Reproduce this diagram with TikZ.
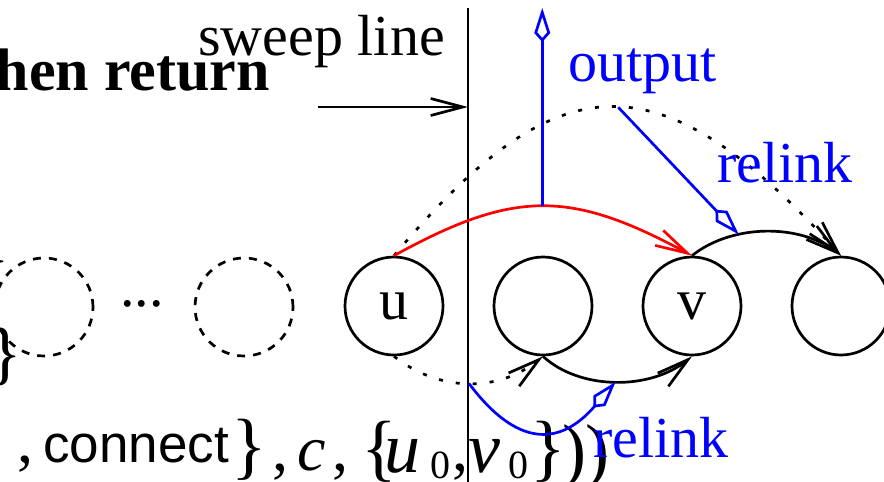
\documentclass[tikz,border=0pt]{standalone}
\usepackage{fontspec}
\setmainfont{Liberation Serif}
\setsansfont{Liberation Sans}
\usetikzlibrary{arrows.meta}
\definecolor{swpblue}{RGB}{0,0,255}
\definecolor{swpred}{RGB}{255,0,0}

\tikzset{
  lbl/.style={inner sep=0, font=\fontsize{58}{60}\selectfont},
  mth/.style={inner sep=0, anchor=base west, font=\fontsize{64}{66}\selectfont},
  vtx/.style={circle, draw, line width=2.7pt, minimum size=98pt, inner sep=0,
    font=\fontsize{58}{60}\selectfont},
  ghost/.style={vtx, dash pattern=on 8pt off 8pt},
  link/.style={line width=2.7pt, -{Straight Barb[length=32pt,width=17pt]}},
  dotlink/.style={link, dash pattern=on 4pt off 13pt},
  relink/.style={swpblue, line width=2.7pt, -{Kite[open,length=34pt,width=16pt,inset=9pt]}}
}

\begin{document}
\begin{tikzpicture}[x=1pt,y=-1pt]
  \useasboundingbox (0,0) rectangle (884,482);
  \clip (0,0) rectangle (884,482);

  % left part of the slide, cut off
  \node[lbl, font=\fontsize{60}{62}\selectfont\bfseries, anchor=base east] (ret) at (270,90) {hen return};
  \node[lbl, font=\fontsize{70}{72}\selectfont, anchor=east] (brA) at (10,262) {\}};
  \node[lbl, font=\fontsize{70}{72}\selectfont, anchor=east] (brB) at (22,357) {\}};
  \node[lbl, font=\fontsize{70}{72}\selectfont, anchor=east] (brC) at (5,424) {\}};
  \node[ghost] (d1) at (44,307) {};
  \node[ghost] (d2) at (244,307) {};
  \node[lbl, anchor=base] (dots) at (142,306) {...};

  \node[mth] (cm1) at (17,462) {,};
  \node[lbl, anchor=base west, font=\fontsize{53}{55}\selectfont\sffamily] (cnt) at (43,462) {connect};
  \node[mth, font=\fontsize{74}{76}\selectfont] (br1) at (231,470) {\}};
  \foreach \px/\gl in {272/{,}, 297/{\textit{c}}, 332/{,}, 452/{,}}
    \node[mth] (m\px) at (\px,470) {\gl};
  \node[mth, font=\fontsize{74}{76}\selectfont] (br2) at (361,472) {\{};
  \node[mth, font=\fontsize{72}{74}\selectfont] (uu) at (384,472) {\textit{u}};
  \node[mth, font=\fontsize{40}{42}\selectfont] (u0) at (430,478) {0};
  \node[mth, font=\fontsize{72}{74}\selectfont] (vv) at (468,472) {\textit{v}};
  \node[mth, font=\fontsize{40}{42}\selectfont] (v0) at (508,478) {0};
  \node[mth, font=\fontsize{74}{76}\selectfont] (br3) at (530,472) {\}};
  \node[mth, font=\fontsize{72}{74}\selectfont] (pa1) at (562,474) {)};
  \node[mth, font=\fontsize{72}{74}\selectfont] (pa2) at (585,474) {)};

  % sweep line
  \coordinate (swtop) at (468,8);
  \coordinate (swbot) at (468,482);
  \coordinate (swtail) at (318,107);
  \draw[line width=2.7pt] (swtop) -- (swbot);
  \draw[link] (swtail) -- (swtail -| swtop);
  \node[lbl, anchor=base east] (swlbl) at (445,55) {sweep line};

  % list
  \node[vtx] (u) at (394,306) {u};
  \node[vtx] (w) at (543,306) {};
  \node[vtx] (v) at (692,306) {v};
  \node[vtx] (x) at (841,306) {};

  \draw[dotlink] (u.north) .. controls +(163,-194) and +(-183,-202) .. (x.north)
    coordinate[pos=0.52] (dottop);
  \draw[link] (v.north) .. controls +(40,-32) and +(-41,-32) .. (x.north)
    coordinate[pos=0.33] (vxtop);
  \draw[link, swpred] (u.north) .. controls +(120,-66) and +(-122,-66) .. (v.north)
    coordinate[pos=0.5] (redtop);
  \draw[dotlink] (u.south) .. controls +(46,36) and +(-45,36) .. (w.south)
    coordinate[pos=0.5] (dotbot);
  \draw[link] (w.south) .. controls +(37,34) and +(-42,34) .. (v.south)
    coordinate[pos=0.5] (wvbot);

  % output and relink
  \coordinate (outtop) at (543,8);
  \draw[relink] (redtop) -- (redtop |- outtop);
  \draw[relink] (dottop) -- (vxtop);
  \draw[relink] (dotbot) .. controls +(48,64) and +(-56,65) .. (wvbot);
  \node[lbl, swpblue, anchor=base west] (outlbl) at (568,81) {output};
  \node[lbl, swpblue, anchor=base west] (rlup) at (717,182) {relink};
  \node[lbl, swpblue, anchor=base west] (rldn) at (593,457) {relink};
\end{tikzpicture}
\end{document}
